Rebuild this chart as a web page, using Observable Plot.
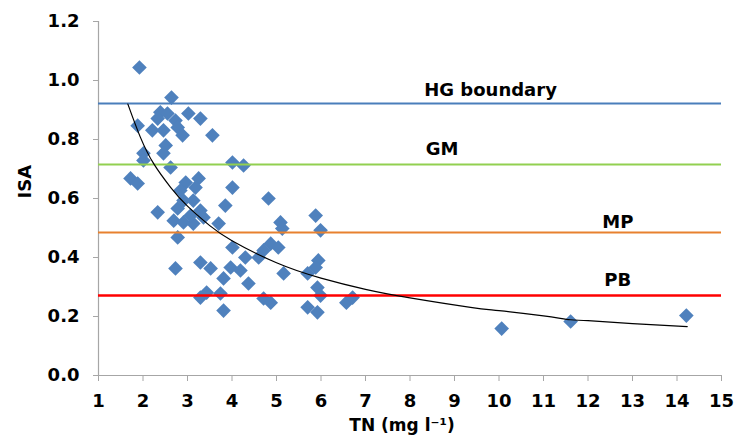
<!DOCTYPE html>
<html>
<head>
<meta charset="utf-8">
<script src="https://cdn.jsdelivr.net/npm/d3@7"></script>
<script src="https://cdn.jsdelivr.net/npm/@observablehq/plot@0.6"></script>
<style>
  html, body { margin: 0; padding: 0; background: #fff; }
</style>
</head>
<body>
<div id="chart"></div>
<script>
// Observed samples: total nitrogen (mg l-1) and ISA
const tn = [
  1.92, 2.64, 1.88, 2.39, 2.33, 2.55, 2.73, 3.02, 3.29, 2.21,
  2.46, 2.78, 2.89, 3.56, 2.51, 2.46, 2.01, 2.01, 2.62, 1.72,
  1.88, 2.96, 3.25, 3.18, 4.01, 4.26, 4.01, 2.84, 2.33, 2.78,
  2.91, 3.13, 3.29, 3.36, 3.85, 4.82, 2.69, 2.91, 3.13, 3.70,
  2.78, 5.09, 5.13, 5.88, 5.99, 4.01, 4.87, 5.04, 4.71, 4.60,
  4.30, 3.97, 3.81, 4.19, 2.73, 3.29, 3.52, 5.16, 5.70, 5.94,
  5.88, 4.37, 3.29, 3.43, 3.74, 4.71, 4.87, 3.81, 5.92, 5.99,
  5.70, 5.92, 6.57, 6.71, 3.07, 10.06, 11.61, 14.21
];
const isa = [
  1.044, 0.942, 0.847, 0.892, 0.871, 0.888, 0.864, 0.888, 0.871, 0.831,
  0.831, 0.841, 0.814, 0.814, 0.780, 0.753, 0.753, 0.729, 0.705, 0.668,
  0.651, 0.654, 0.668, 0.637, 0.722, 0.712, 0.637, 0.627, 0.553, 0.566,
  0.593, 0.593, 0.559, 0.536, 0.576, 0.600, 0.525, 0.519, 0.515, 0.515,
  0.468, 0.519, 0.498, 0.542, 0.492, 0.434, 0.447, 0.434, 0.424, 0.400,
  0.400, 0.366, 0.329, 0.356, 0.363, 0.383, 0.363, 0.346, 0.346, 0.390,
  0.366, 0.312, 0.264, 0.281, 0.278, 0.261, 0.247, 0.220, 0.298, 0.271,
  0.231, 0.214, 0.247, 0.264, 0.542, 0.159, 0.183, 0.203
];

// Trend line
const curveTN  = [1.66, 1.94, 2.24, 2.62, 3.0, 3.5, 4.0, 5.0, 6.0, 7.0, 8.0, 9.36, 10.0, 11.0, 11.6, 12.0, 13.0, 14.23];
const curveISA = [0.920, 0.808, 0.718, 0.638, 0.574, 0.508, 0.457, 0.382, 0.330, 0.292, 0.263, 0.231, 0.220, 0.202, 0.189, 0.186, 0.176, 0.166];

// Class boundaries
const boundaryNames  = ["HG boundary", "GM", "MP", "PB"];
const boundaryValues = [0.922, 0.715, 0.485, 0.271];
const boundaryColors = ["#4A7EBB", "#92D050", "#E8812F", "#FF0000"];
const boundaryLabelTN  = [9.81, 8.72, 12.67, 12.67];
const boundaryLabelISA = [0.966, 0.766, 0.519, 0.322];

const xTicks = d3.range(1, 16);
const yTicks = [0, 0.2, 0.4, 0.6, 0.8, 1.0, 1.2];

const points = tn.map((t, i) => ({tn: t, isa: isa[i]}));
const curve = curveTN.map((t, i) => ({tn: t, isa: curveISA[i]}));
const boundaries = boundaryNames.map((n, i) => ({
  name: n, value: boundaryValues[i], color: boundaryColors[i],
  lx: boundaryLabelTN[i], ly: boundaryLabelISA[i]
}));

const font = "'DejaVu Sans', sans-serif";

const chart = Plot.plot({
  width: 736,
  height: 440,
  marginLeft: 98,
  marginRight: 15,
  marginTop: 21,
  marginBottom: 65,
  style: {fontFamily: font, fontSize: "18px", fontWeight: "bold", color: "#000", background: "#fff"},
  x: {domain: [1, 15]},
  y: {domain: [0, 1.2]},
  marks: [
    Plot.ruleX([1], {stroke: "#A6A6A6", strokeWidth: 1.2}),
    Plot.ruleY([0], {stroke: "#A6A6A6", strokeWidth: 1.2}),
    Plot.axisY({ticks: yTicks, tickFormat: d3.format(".1f"), tickSize: 5, tickPadding: 14, stroke: "#A6A6A6", fill: "#000", label: null}),
    Plot.axisX({ticks: xTicks, tickFormat: d => String(d), tickSize: 6, tickPadding: 13, stroke: "#A6A6A6", fill: "#000", label: null}),
    Plot.dot(points, {x: "tn", y: "isa", symbol: "diamond2", r: 6.6, fill: "#4F81BD", stroke: "none"}),
    Plot.ruleY(boundaries, {y: "value", stroke: "color", strokeWidth: d => d.name === "PB" ? 2.6 : 2}),
    Plot.line(curve, {x: "tn", y: "isa", curve: "natural", stroke: "#000", strokeWidth: 1.2}),
    Plot.text(boundaries, {x: "lx", y: "ly", text: "name", fill: "#000", fontSize: 18, fontWeight: "bold"}),
    Plot.text(["ISA"], {frameAnchor: "left", dx: -73, rotate: -90, fontSize: 18, fontWeight: "bold", fill: "#000"}),
    Plot.text(["TN (mg l\u207B\u00B9)"], {frameAnchor: "bottom", dx: -8, dy: 55, fontSize: 17, fontWeight: "bold", fill: "#000"})
  ]
});
document.getElementById("chart").appendChild(chart);
</script>
</body>
</html>
